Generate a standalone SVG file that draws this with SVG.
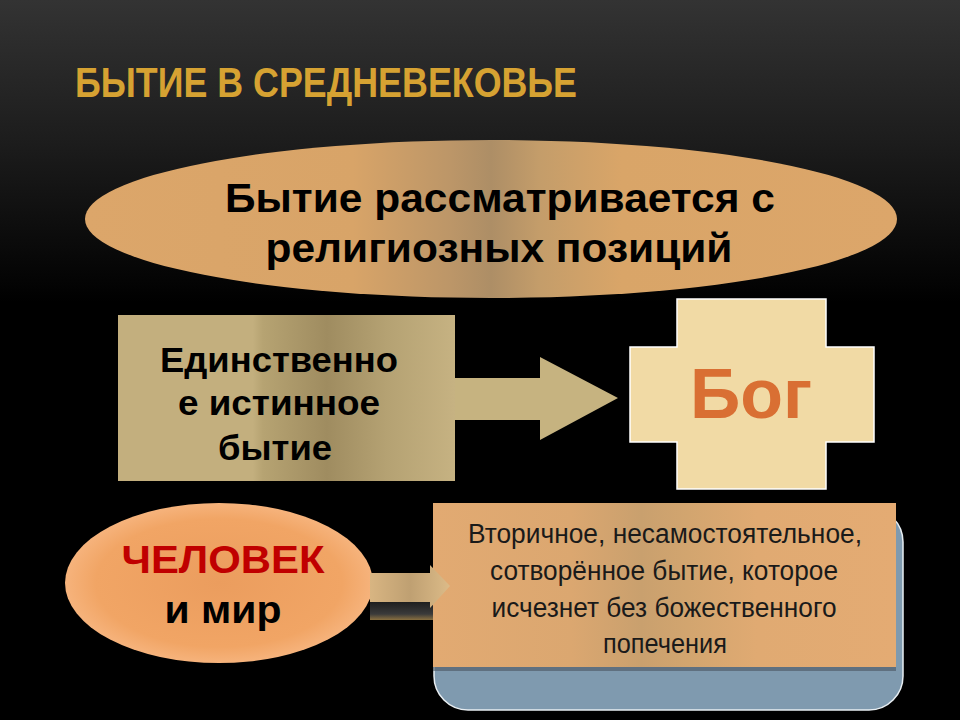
<svg xmlns="http://www.w3.org/2000/svg" width="960" height="720" viewBox="0 0 960 720">
<defs>
<linearGradient id="bg" x1="0" y1="0" x2="0" y2="1">
<stop offset="0" stop-color="#333333"/>
<stop offset="0.2" stop-color="#1c1c1c"/>
<stop offset="0.42" stop-color="#000000"/>
<stop offset="1" stop-color="#000000"/>
</linearGradient>
<linearGradient id="ellTop" x1="0" y1="0" x2="1" y2="0">
<stop offset="0" stop-color="#dca66a"/>
<stop offset="0.33" stop-color="#d8a468"/>
<stop offset="0.45" stop-color="#bc9668"/>
<stop offset="0.5" stop-color="#ad8e66"/>
<stop offset="0.56" stop-color="#c49d6a"/>
<stop offset="0.66" stop-color="#d9a568"/>
<stop offset="1" stop-color="#dca66a"/>
</linearGradient>
<linearGradient id="rectL" x1="0" y1="0" x2="1" y2="0">
<stop offset="0" stop-color="#c3af7e"/>
<stop offset="0.4" stop-color="#c3af7e"/>
<stop offset="0.43" stop-color="#b6a372"/>
<stop offset="0.62" stop-color="#9f8c60"/>
<stop offset="0.8" stop-color="#b5a273"/>
<stop offset="1" stop-color="#c6b282"/>
</linearGradient>
<radialGradient id="ellBot" cx="0.5" cy="0.5" r="0.5">
<stop offset="0" stop-color="#eb9d5e"/>
<stop offset="0.8" stop-color="#f1a565"/>
<stop offset="1" stop-color="#f6b37c"/>
</radialGradient>
<linearGradient id="arrB" x1="0" y1="0" x2="1" y2="0">
<stop offset="0" stop-color="#d8b582"/>
<stop offset="0.5" stop-color="#bfa072"/>
<stop offset="1" stop-color="#dcbb88"/>
</linearGradient>
<linearGradient id="shadow" x1="0" y1="0" x2="0" y2="1">
<stop offset="0" stop-color="#1a1a1a"/>
<stop offset="0.7" stop-color="#3a3a3a"/>
<stop offset="1" stop-color="#8a7040"/>
</linearGradient>
<linearGradient id="box" x1="0" y1="0" x2="1" y2="0">
<stop offset="0" stop-color="#e2aa72"/>
<stop offset="0.3" stop-color="#dba770"/>
<stop offset="0.45" stop-color="#c9a06e"/>
<stop offset="0.55" stop-color="#d2a56f"/>
<stop offset="0.7" stop-color="#e0aa72"/>
<stop offset="1" stop-color="#e4ab73"/>
</linearGradient>
</defs>
<style>
.t{font-family:"Liberation Sans",Arial,sans-serif;font-weight:bold;}
.n{font-family:"Liberation Sans",Arial,sans-serif;}
</style>
<rect width="960" height="720" fill="url(#bg)"/>
<text id="title" class="t" x="75" y="97" font-size="42" fill="#d6a232" textLength="502" lengthAdjust="spacingAndGlyphs">БЫТИЕ В СРЕДНЕВЕКОВЬЕ</text>

<g id="node-religion">
<ellipse cx="491" cy="219" rx="406" ry="79" fill="url(#ellTop)"/>
<text class="t" x="500" y="212" font-size="40" fill="#000" text-anchor="middle" textLength="550" lengthAdjust="spacingAndGlyphs">Бытие рассматривается с</text>
<text class="t" x="499" y="262" font-size="40" fill="#000" text-anchor="middle" textLength="467" lengthAdjust="spacingAndGlyphs">религиозных позиций</text>
</g>

<g id="node-true-being">
<rect x="118" y="315" width="337" height="166" fill="url(#rectL)"/>
<text class="t" x="279" y="372" font-size="35" fill="#000" text-anchor="middle" textLength="238" lengthAdjust="spacingAndGlyphs">Единственно</text>
<text class="t" x="279" y="415" font-size="35" fill="#000" text-anchor="middle" textLength="202" lengthAdjust="spacingAndGlyphs">е истинное</text>
<text class="t" x="275" y="460" font-size="35" fill="#000" text-anchor="middle" textLength="114" lengthAdjust="spacingAndGlyphs">бытие</text>
</g>

<g id="node-god">
<polygon points="677,299 826,299 826,347 874,347 874,442 826,442 826,489 677,489 677,442 630,442 630,347 677,347" fill="#f1daa5" stroke="#ffffff" stroke-width="1.5"/>
<text class="t" x="751" y="418" font-size="70" fill="#d96f33" text-anchor="middle">Бог</text>
</g>

<g id="node-man">
<ellipse cx="219" cy="583" rx="154" ry="80" fill="url(#ellBot)"/>
<text class="t" x="223" y="573" font-size="39" fill="#c00000" text-anchor="middle" textLength="203" lengthAdjust="spacingAndGlyphs">ЧЕЛОВЕК</text>
<text class="t" x="223" y="623" font-size="39" fill="#000" text-anchor="middle" textLength="117" lengthAdjust="spacingAndGlyphs">и мир</text>
</g>

<g id="node-secondary">
<rect x="434" y="508" width="469" height="202" rx="34" fill="#7f9aaf" stroke="#e8eef2" stroke-width="1.5"/>
<rect x="433" y="503" width="463" height="164" fill="url(#box)"/>
<rect x="433" y="667" width="463" height="4" fill="#4a5560" opacity="0.6"/>
<text class="n" x="665" y="543" font-size="27" fill="#1a1a1a" text-anchor="middle" textLength="394" lengthAdjust="spacingAndGlyphs">Вторичное, несамостоятельное,</text>
<text class="n" x="664" y="580" font-size="27" fill="#1a1a1a" text-anchor="middle" textLength="348" lengthAdjust="spacingAndGlyphs">сотворённое бытие, которое</text>
<text class="n" x="664" y="617" font-size="27" fill="#1a1a1a" text-anchor="middle" textLength="345" lengthAdjust="spacingAndGlyphs">исчезнет без божественного</text>
<text class="n" x="665" y="653" font-size="27" fill="#1a1a1a" text-anchor="middle" textLength="124" lengthAdjust="spacingAndGlyphs">попечения</text>
</g>

<g id="connectors">
<polygon points="455,378 540,378 540,357 618,398 540,440 540,420 455,420" fill="#c6b380"/>
<rect x="370" y="600" width="63" height="20" fill="url(#shadow)"/>
<polygon points="370,573 430,573 430,565 450,586 430,608 430,602 370,602" fill="url(#arrB)"/>
</g>
</svg>
